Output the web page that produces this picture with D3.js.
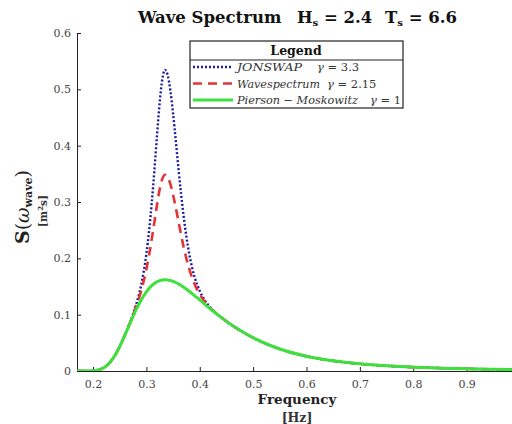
<!DOCTYPE html>
<html>
<head>
<meta charset="utf-8">
<script src="https://cdn.jsdelivr.net/npm/d3@7"></script>
<style>
  body { margin: 0; background: #fff; }
  svg { display: block; }
  text { font-family: "DejaVu Serif", "Liberation Serif", serif; }
  .tick text { fill: #444; font-size: 11px; }
  .domain, .tick line { stroke: #222; }
</style>
</head>
<body>
<svg id="chart" width="512" height="424"></svg>
<script>
// frequency grid in Hz
const freq = [0.17, 0.18, 0.19, 0.20, 0.21, 0.22, 0.23, 0.24, 0.25, 0.26, 0.27, 0.28, 0.29, 0.30,
  0.305, 0.31, 0.315, 0.32, 0.325, 0.33, 0.335, 0.34, 0.345, 0.35, 0.355, 0.36, 0.365, 0.37,
  0.38, 0.39, 0.40, 0.41, 0.42, 0.43, 0.44, 0.45, 0.47, 0.50, 0.55, 0.60, 0.65, 0.70, 0.75,
  0.80, 0.85, 0.90, 0.95, 1.00]

const jonswap = [0, 0, 0.0001, 0.0004, 0.0018, 0.0056, 0.0134, 0.0261, 0.0434, 0.0646, 0.0882, 0.1155,
  0.1518, 0.2081, 0.2482, 0.2980, 0.3563, 0.4191, 0.4775, 0.5191, 0.5346, 0.5250, 0.4975, 0.4569,
  0.4096, 0.3605, 0.3142, 0.2729, 0.2094, 0.1679, 0.1421, 0.1246, 0.1126, 0.1033, 0.0953, 0.0881,
  0.0753, 0.0590, 0.0390, 0.0262, 0.0180, 0.0127, 0.0092, 0.0068, 0.0051, 0.0039, 0.0030, 0.0023]

const wavespectrum = [0, 0, 0.0001, 0.0004, 0.0018, 0.0056, 0.0134, 0.0261, 0.0434, 0.0644, 0.0874, 0.1124,
  0.1418, 0.1808, 0.2055, 0.2338, 0.2646, 0.2956, 0.3229, 0.3415, 0.3483, 0.3441, 0.3317, 0.3129,
  0.2903, 0.2661, 0.2420, 0.2193, 0.1820, 0.1548, 0.1363, 0.1221, 0.1117, 0.1030, 0.0952, 0.0881,
  0.0753, 0.0590, 0.0390, 0.0262, 0.0180, 0.0127, 0.0092, 0.0068, 0.0051, 0.0039, 0.0030, 0.0023]

const piersonMoskowitz = [0, 0, 0.0001, 0.0004, 0.0018, 0.0056, 0.0134, 0.0261, 0.0434, 0.0641, 0.0860, 0.1070,
  0.1256, 0.1406, 0.1466, 0.1515, 0.1554, 0.1584, 0.1605, 0.1616, 0.1620, 0.1617, 0.1607, 0.1591,
  0.1571, 0.1546, 0.1517, 0.1485, 0.1415, 0.1339, 0.1264, 0.1180, 0.1101, 0.1024, 0.0951, 0.0881,
  0.0753, 0.0590, 0.0390, 0.0262, 0.0180, 0.0127, 0.0092, 0.0068, 0.0051, 0.0039, 0.0030, 0.0023]

const xTicks = [0.2, 0.3, 0.4, 0.5, 0.6, 0.7, 0.8, 0.9]
const yTicks = [0, 0.1, 0.2, 0.3, 0.4, 0.5, 0.6]

const series = [
  {name: 'JONSWAP', gamma: '3.3', values: jonswap, color: '#1c1c9c', width: 2.4, dash: '2,2'},
  {name: 'Wavespectrum', gamma: '2.15', values: wavespectrum, color: '#e23434', width: 2.6, dash: '9,6'},
  {name: 'Pierson \u2212 Moskowitz', gamma: '1', values: piersonMoskowitz, color: '#3ee03e', width: 3, dash: null}
]

const plotLeft = 77, plotRight = 520, plotTop = 33, plotBottom = 371
const serif = '"DejaVu Serif", "Liberation Serif", serif'

const svg = d3.select('#chart')

const x = d3.scaleLinear().domain([0.17, 1.0]).range([plotLeft, plotRight])
const y = d3.scaleLinear().domain([0, 0.6]).range([plotBottom, plotTop])

svg.append('clipPath').attr('id', 'plot-clip')
  .append('rect').attr('x', plotLeft).attr('y', plotTop - 5)
  .attr('width', plotRight - plotLeft).attr('height', plotBottom - plotTop + 5)

// axes, ticks pointing inwards like matlab
svg.append('g')
  .attr('transform', `translate(0,${plotBottom})`)
  .call(d3.axisBottom(x).tickValues(xTicks).tickFormat(d3.format('.1f')).tickSizeInner(-4).tickSizeOuter(0).tickPadding(9))
  .attr('font-family', serif)

svg.append('g')
  .attr('transform', `translate(${plotLeft},0)`)
  .call(d3.axisLeft(y).tickValues(yTicks).tickFormat(d => d === 0 ? '0' : d3.format('.1f')(d)).tickSizeInner(-4).tickSizeOuter(0).tickPadding(6))
  .attr('font-family', serif)

const line = d3.line().curve(d3.curveMonotoneX)

const plot = svg.append('g').attr('clip-path', 'url(#plot-clip)')
for (const s of series) {
  plot.append('path')
    .datum(freq.map((f, i) => [x(f), y(s.values[i])]))
    .attr('d', line)
    .attr('fill', 'none')
    .attr('stroke', s.color)
    .attr('stroke-width', s.width)
    .attr('stroke-dasharray', s.dash)
}

// title, three pieces placed like the latex spacing
const titleFont = 16.5
svg.append('text').attr('x', 138).attr('y', 23)
  .attr('font-size', titleFont).attr('font-weight', 'bold').attr('fill', '#111')
  .text('Wave Spectrum')
const parts = [['H', '2.4', 297], ['T', '6.6', 385]]
for (const [sym, val, px] of parts) {
  const t = svg.append('text').attr('x', px).attr('y', 23)
    .attr('font-size', titleFont).attr('font-weight', 'bold').attr('fill', '#111')
  t.append('tspan').text(sym)
  t.append('tspan').attr('font-size', 10).attr('dy', 3).text('s')
  t.append('tspan').attr('dy', -3).text(' = ' + val)
}

// axis labels
svg.append('text')
  .attr('x', 297).attr('y', 404)
  .attr('text-anchor', 'middle')
  .attr('font-size', 13.5).attr('font-weight', 'bold').attr('fill', '#222')
  .text('Frequency')
svg.append('text')
  .attr('x', 297).attr('y', 422)
  .attr('text-anchor', 'middle')
  .attr('font-size', 12.5).attr('font-weight', 'bold').attr('fill', '#333')
  .text('[Hz]')

const yl1 = svg.append('text')
  .attr('transform', 'translate(29,207) rotate(-90)')
  .attr('text-anchor', 'middle')
  .attr('font-size', 19).attr('fill', '#222')
yl1.append('tspan').attr('font-weight', 'bold').text('S')
yl1.append('tspan').text('(')
yl1.append('tspan').attr('font-style', 'italic').text('\u03c9')
yl1.append('tspan').attr('font-size', 11).attr('dy', 3).attr('font-weight', 'bold').text('wave')
yl1.append('tspan').attr('dy', -3).text(')')
const yl2 = svg.append('text')
  .attr('transform', 'translate(47,211) rotate(-90)')
  .attr('text-anchor', 'middle')
  .attr('font-size', 10.5).attr('font-weight', 'bold').attr('fill', '#333')
yl2.append('tspan').text('[m')
yl2.append('tspan').attr('font-size', 7).attr('dy', -4).text('2')
yl2.append('tspan').attr('dy', 4).text('s]')

// legend
const lg = svg.append('g').attr('transform', 'translate(190,41)')
lg.append('rect').attr('width', 213).attr('height', 67).attr('fill', '#fff').attr('stroke', '#222').attr('stroke-width', 1.2)
lg.append('line').attr('x1', 0).attr('x2', 213).attr('y1', 19).attr('y2', 19).attr('stroke', '#222').attr('stroke-width', 1.2)
lg.append('text').attr('x', 106).attr('y', 14).attr('text-anchor', 'middle')
  .attr('font-size', 12.5).attr('font-weight', 'bold').attr('fill', '#111').text('Legend')

const nameLen = [65, 83, 121]
const gammaX = [127, 137, 180]
series.forEach((s, i) => {
  const yy = 26 + i * 16.5
  lg.append('line')
    .attr('x1', 3).attr('x2', 43).attr('y1', yy).attr('y2', yy)
    .attr('stroke', s.color).attr('stroke-width', s.width).attr('stroke-dasharray', s.dash)
  lg.append('text').attr('x', 47).attr('y', yy + 4)
    .attr('font-size', 11.5).attr('font-style', 'italic').attr('fill', '#333')
    .attr('textLength', nameLen[i]).attr('lengthAdjust', 'spacingAndGlyphs')
    .text(s.name)
  const t = lg.append('text').attr('x', gammaX[i]).attr('y', yy + 4)
    .attr('font-size', 11.5).attr('fill', '#333')
  t.append('tspan').attr('font-style', 'italic').text('\u03b3')
  t.append('tspan').text(' = ' + s.gamma)
})
</script>
</body>
</html>
